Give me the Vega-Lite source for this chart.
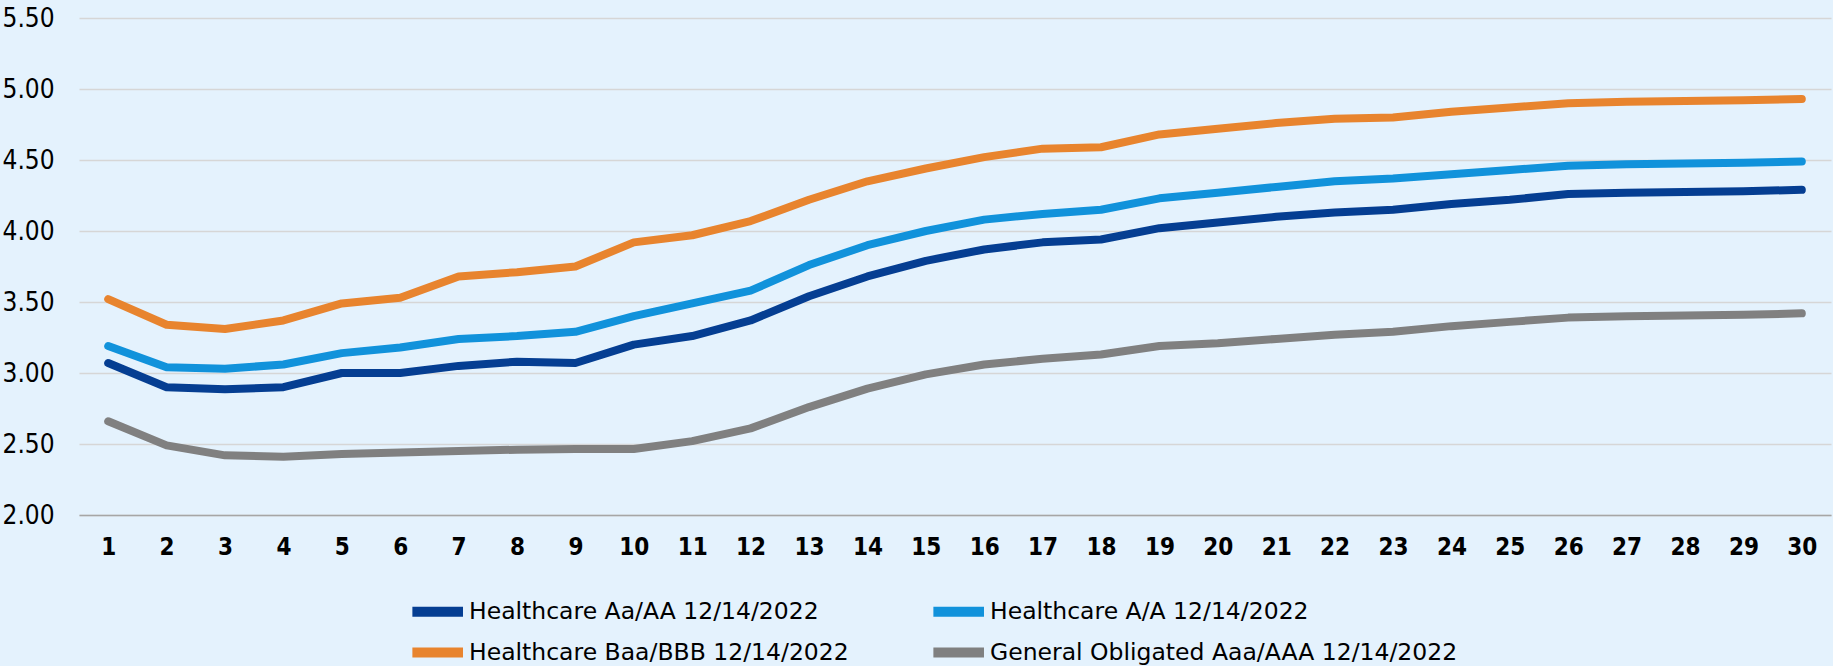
{
  "$schema": "https://vega.github.io/schema/vega-lite/v6.json",
  "autosize": {"type": "none"},
  "width": 1752,
  "height": 497,
  "padding": {"left": 79, "top": 18, "right": 2, "bottom": 151},
  "background": "#E4F2FD",
  "config": {
    "view": {"stroke": null},
    "font": "DejaVu Sans Condensed"
  },
  "data": {
    "values": [
      {"m":1,"s":"Healthcare Aa/AA 12/14/2022","y":3.07},{"m":2,"s":"Healthcare Aa/AA 12/14/2022","y":2.90},{"m":3,"s":"Healthcare Aa/AA 12/14/2022","y":2.885},{"m":4,"s":"Healthcare Aa/AA 12/14/2022","y":2.90},{"m":5,"s":"Healthcare Aa/AA 12/14/2022","y":3.00},{"m":6,"s":"Healthcare Aa/AA 12/14/2022","y":3.00},{"m":7,"s":"Healthcare Aa/AA 12/14/2022","y":3.05},{"m":8,"s":"Healthcare Aa/AA 12/14/2022","y":3.08},{"m":9,"s":"Healthcare Aa/AA 12/14/2022","y":3.07},{"m":10,"s":"Healthcare Aa/AA 12/14/2022","y":3.20},
      {"m":11,"s":"Healthcare Aa/AA 12/14/2022","y":3.26},{"m":12,"s":"Healthcare Aa/AA 12/14/2022","y":3.37},{"m":13,"s":"Healthcare Aa/AA 12/14/2022","y":3.54},{"m":14,"s":"Healthcare Aa/AA 12/14/2022","y":3.68},{"m":15,"s":"Healthcare Aa/AA 12/14/2022","y":3.79},{"m":16,"s":"Healthcare Aa/AA 12/14/2022","y":3.87},{"m":17,"s":"Healthcare Aa/AA 12/14/2022","y":3.92},{"m":18,"s":"Healthcare Aa/AA 12/14/2022","y":3.94},{"m":19,"s":"Healthcare Aa/AA 12/14/2022","y":4.02},{"m":20,"s":"Healthcare Aa/AA 12/14/2022","y":4.06},
      {"m":21,"s":"Healthcare Aa/AA 12/14/2022","y":4.10},{"m":22,"s":"Healthcare Aa/AA 12/14/2022","y":4.13},{"m":23,"s":"Healthcare Aa/AA 12/14/2022","y":4.15},{"m":24,"s":"Healthcare Aa/AA 12/14/2022","y":4.19},{"m":25,"s":"Healthcare Aa/AA 12/14/2022","y":4.22},{"m":26,"s":"Healthcare Aa/AA 12/14/2022","y":4.26},{"m":27,"s":"Healthcare Aa/AA 12/14/2022","y":4.27},{"m":28,"s":"Healthcare Aa/AA 12/14/2022","y":4.275},{"m":29,"s":"Healthcare Aa/AA 12/14/2022","y":4.28},{"m":30,"s":"Healthcare Aa/AA 12/14/2022","y":4.29},

      {"m":1,"s":"Healthcare A/A 12/14/2022","y":3.19},{"m":2,"s":"Healthcare A/A 12/14/2022","y":3.04},{"m":3,"s":"Healthcare A/A 12/14/2022","y":3.03},{"m":4,"s":"Healthcare A/A 12/14/2022","y":3.06},{"m":5,"s":"Healthcare A/A 12/14/2022","y":3.14},{"m":6,"s":"Healthcare A/A 12/14/2022","y":3.18},{"m":7,"s":"Healthcare A/A 12/14/2022","y":3.24},{"m":8,"s":"Healthcare A/A 12/14/2022","y":3.26},{"m":9,"s":"Healthcare A/A 12/14/2022","y":3.29},{"m":10,"s":"Healthcare A/A 12/14/2022","y":3.40},
      {"m":11,"s":"Healthcare A/A 12/14/2022","y":3.49},{"m":12,"s":"Healthcare A/A 12/14/2022","y":3.58},{"m":13,"s":"Healthcare A/A 12/14/2022","y":3.76},{"m":14,"s":"Healthcare A/A 12/14/2022","y":3.90},{"m":15,"s":"Healthcare A/A 12/14/2022","y":4.00},{"m":16,"s":"Healthcare A/A 12/14/2022","y":4.08},{"m":17,"s":"Healthcare A/A 12/14/2022","y":4.12},{"m":18,"s":"Healthcare A/A 12/14/2022","y":4.15},{"m":19,"s":"Healthcare A/A 12/14/2022","y":4.23},{"m":20,"s":"Healthcare A/A 12/14/2022","y":4.27},
      {"m":21,"s":"Healthcare A/A 12/14/2022","y":4.31},{"m":22,"s":"Healthcare A/A 12/14/2022","y":4.35},{"m":23,"s":"Healthcare A/A 12/14/2022","y":4.37},{"m":24,"s":"Healthcare A/A 12/14/2022","y":4.40},{"m":25,"s":"Healthcare A/A 12/14/2022","y":4.43},{"m":26,"s":"Healthcare A/A 12/14/2022","y":4.46},{"m":27,"s":"Healthcare A/A 12/14/2022","y":4.47},{"m":28,"s":"Healthcare A/A 12/14/2022","y":4.475},{"m":29,"s":"Healthcare A/A 12/14/2022","y":4.48},{"m":30,"s":"Healthcare A/A 12/14/2022","y":4.49},

      {"m":1,"s":"Healthcare Baa/BBB 12/14/2022","y":3.52},{"m":2,"s":"Healthcare Baa/BBB 12/14/2022","y":3.34},{"m":3,"s":"Healthcare Baa/BBB 12/14/2022","y":3.31},{"m":4,"s":"Healthcare Baa/BBB 12/14/2022","y":3.37},{"m":5,"s":"Healthcare Baa/BBB 12/14/2022","y":3.49},{"m":6,"s":"Healthcare Baa/BBB 12/14/2022","y":3.53},{"m":7,"s":"Healthcare Baa/BBB 12/14/2022","y":3.68},{"m":8,"s":"Healthcare Baa/BBB 12/14/2022","y":3.71},{"m":9,"s":"Healthcare Baa/BBB 12/14/2022","y":3.75},{"m":10,"s":"Healthcare Baa/BBB 12/14/2022","y":3.92},
      {"m":11,"s":"Healthcare Baa/BBB 12/14/2022","y":3.97},{"m":12,"s":"Healthcare Baa/BBB 12/14/2022","y":4.07},{"m":13,"s":"Healthcare Baa/BBB 12/14/2022","y":4.22},{"m":14,"s":"Healthcare Baa/BBB 12/14/2022","y":4.35},{"m":15,"s":"Healthcare Baa/BBB 12/14/2022","y":4.44},{"m":16,"s":"Healthcare Baa/BBB 12/14/2022","y":4.52},{"m":17,"s":"Healthcare Baa/BBB 12/14/2022","y":4.58},{"m":18,"s":"Healthcare Baa/BBB 12/14/2022","y":4.59},{"m":19,"s":"Healthcare Baa/BBB 12/14/2022","y":4.68},{"m":20,"s":"Healthcare Baa/BBB 12/14/2022","y":4.72},
      {"m":21,"s":"Healthcare Baa/BBB 12/14/2022","y":4.76},{"m":22,"s":"Healthcare Baa/BBB 12/14/2022","y":4.79},{"m":23,"s":"Healthcare Baa/BBB 12/14/2022","y":4.80},{"m":24,"s":"Healthcare Baa/BBB 12/14/2022","y":4.84},{"m":25,"s":"Healthcare Baa/BBB 12/14/2022","y":4.87},{"m":26,"s":"Healthcare Baa/BBB 12/14/2022","y":4.90},{"m":27,"s":"Healthcare Baa/BBB 12/14/2022","y":4.91},{"m":28,"s":"Healthcare Baa/BBB 12/14/2022","y":4.915},{"m":29,"s":"Healthcare Baa/BBB 12/14/2022","y":4.92},{"m":30,"s":"Healthcare Baa/BBB 12/14/2022","y":4.93},

      {"m":1,"s":"General Obligated Aaa/AAA 12/14/2022","y":2.66},{"m":2,"s":"General Obligated Aaa/AAA 12/14/2022","y":2.49},{"m":3,"s":"General Obligated Aaa/AAA 12/14/2022","y":2.42},{"m":4,"s":"General Obligated Aaa/AAA 12/14/2022","y":2.41},{"m":5,"s":"General Obligated Aaa/AAA 12/14/2022","y":2.43},{"m":6,"s":"General Obligated Aaa/AAA 12/14/2022","y":2.44},{"m":7,"s":"General Obligated Aaa/AAA 12/14/2022","y":2.45},{"m":8,"s":"General Obligated Aaa/AAA 12/14/2022","y":2.46},{"m":9,"s":"General Obligated Aaa/AAA 12/14/2022","y":2.465},{"m":10,"s":"General Obligated Aaa/AAA 12/14/2022","y":2.465},
      {"m":11,"s":"General Obligated Aaa/AAA 12/14/2022","y":2.52},{"m":12,"s":"General Obligated Aaa/AAA 12/14/2022","y":2.61},{"m":13,"s":"General Obligated Aaa/AAA 12/14/2022","y":2.76},{"m":14,"s":"General Obligated Aaa/AAA 12/14/2022","y":2.89},{"m":15,"s":"General Obligated Aaa/AAA 12/14/2022","y":2.99},{"m":16,"s":"General Obligated Aaa/AAA 12/14/2022","y":3.06},{"m":17,"s":"General Obligated Aaa/AAA 12/14/2022","y":3.10},{"m":18,"s":"General Obligated Aaa/AAA 12/14/2022","y":3.13},{"m":19,"s":"General Obligated Aaa/AAA 12/14/2022","y":3.19},{"m":20,"s":"General Obligated Aaa/AAA 12/14/2022","y":3.21},
      {"m":21,"s":"General Obligated Aaa/AAA 12/14/2022","y":3.24},{"m":22,"s":"General Obligated Aaa/AAA 12/14/2022","y":3.27},{"m":23,"s":"General Obligated Aaa/AAA 12/14/2022","y":3.29},{"m":24,"s":"General Obligated Aaa/AAA 12/14/2022","y":3.33},{"m":25,"s":"General Obligated Aaa/AAA 12/14/2022","y":3.36},{"m":26,"s":"General Obligated Aaa/AAA 12/14/2022","y":3.39},{"m":27,"s":"General Obligated Aaa/AAA 12/14/2022","y":3.40},{"m":28,"s":"General Obligated Aaa/AAA 12/14/2022","y":3.405},{"m":29,"s":"General Obligated Aaa/AAA 12/14/2022","y":3.41},{"m":30,"s":"General Obligated Aaa/AAA 12/14/2022","y":3.42}
    ]
  },
  "mark": {"type": "line", "strokeWidth": 8, "strokeCap": "round", "strokeJoin": "round"},
  "encoding": {
    "x": {
      "field": "m",
      "type": "ordinal",
      "scale": {"type": "point", "padding": 0.5},
      "axis": {
        "title": null,
        "labelAngle": 0,
        "labelFont": "DejaVu Sans Condensed",
        "labelFontWeight": "bold",
        "labelFontSize": 24,
        "labelColor": "#000000",
        "labelPadding": 20,
        "ticks": false,
        "domain": true,
        "domainColor": "#A6A6A6",
        "domainWidth": 1.5,
        "grid": false
      }
    },
    "y": {
      "field": "y",
      "type": "quantitative",
      "scale": {"domain": [2, 5.5], "nice": false, "zero": false},
      "axis": {
        "title": null,
        "values": [2, 2.5, 3, 3.5, 4, 4.5, 5, 5.5],
        "format": ".2f",
        "labelAlign": "left",
        "labelPadding": 77,
        "labelFont": "DejaVu Sans Condensed",
        "labelFontSize": 26,
        "labelColor": "#000000",
        "ticks": false,
        "domain": false,
        "grid": true,
        "gridColor": "#D6D6D6",
        "gridWidth": 1.5
      }
    },
    "color": {
      "field": "s",
      "type": "nominal",
      "scale": {
        "domain": ["Healthcare Aa/AA 12/14/2022", "Healthcare A/A 12/14/2022", "Healthcare Baa/BBB 12/14/2022", "General Obligated Aaa/AAA 12/14/2022"],
        "range": ["#053E92", "#1192DB", "#E8842E", "#808080"]
      },
      "legend": {
        "title": null,
        "orient": "none",
        "direction": "horizontal",
        "legendX": 345,
        "legendY": 577,
        "columns": 2,
        "columnPadding": 64,
        "rowPadding": 0,
        "padding": 0,
        "symbolType": "M-2.5,0L2,0",
        "symbolSize": 506,
        "symbolStrokeWidth": 10,
        "symbolStrokeCap": "round",
        "labelFont": "DejaVu Sans",
        "labelFontSize": 23.5,
        "labelColor": "#000000",
        "labelOffset": 12,
        "labelLimit": 600
      }
    }
  }
}
